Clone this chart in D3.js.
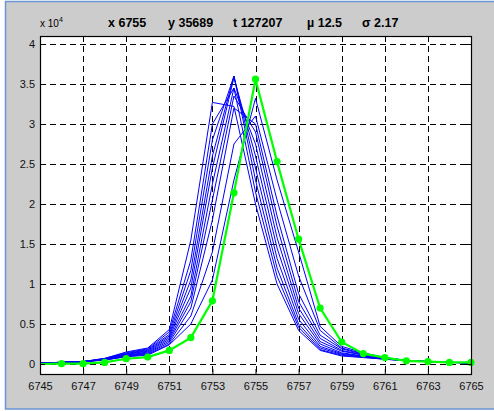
<!DOCTYPE html>
<html>
<head>
<meta charset="utf-8">
<script src="https://cdn.jsdelivr.net/npm/d3@7"></script>
<style>
  body { margin: 0; background: #fff; }
  text { font-family: "Liberation Sans", Arial, sans-serif; }
</style>
</head>
<body>
<svg width="494" height="411"></svg>
<script>
// wavelength channels
var xs = [6744, 6745, 6746, 6747, 6748, 6749, 6750, 6751, 6752, 6753, 6754,
          6755, 6756, 6757, 6758, 6759, 6760, 6761, 6762, 6763, 6764, 6765];

// measured profile (green), units of 1e4
var measured = [0, 0, 0.004, 0.004, 0.02, 0.066, 0.087, 0.17, 0.33, 0.79, 2.14,
                3.56, 2.53, 1.56, 0.70, 0.275, 0.13, 0.08, 0.04, 0.03, 0.02, 0.02];

// neighbouring profiles (blue)
var neighbours = [
  [0.01, 0.015, 0.02, 0.03, 0.07, 0.15, 0.20, 0.43, 1.55, 3.27, 3.22, 2.00, 1.00, 0.42, 0.17, 0.10, 0.08, 0.06, 0.04, 0.03, 0.02, 0.015],
  [0.01, 0.015, 0.02, 0.03, 0.07, 0.14, 0.19, 0.40, 1.30, 3.00, 3.45, 2.15, 1.10, 0.46, 0.18, 0.11, 0.085, 0.06, 0.04, 0.03, 0.02, 0.015],
  [0.01, 0.015, 0.02, 0.03, 0.065, 0.13, 0.18, 0.37, 1.17, 2.80, 3.60, 2.30, 1.20, 0.50, 0.20, 0.12, 0.09, 0.065, 0.04, 0.03, 0.02, 0.015],
  [0.01, 0.015, 0.02, 0.03, 0.06, 0.125, 0.17, 0.35, 1.05, 2.60, 3.60, 2.45, 1.32, 0.56, 0.22, 0.13, 0.095, 0.065, 0.04, 0.03, 0.02, 0.015],
  [0.01, 0.015, 0.02, 0.03, 0.06, 0.12, 0.16, 0.33, 0.95, 2.45, 3.58, 2.60, 1.45, 0.63, 0.25, 0.14, 0.10, 0.07, 0.04, 0.03, 0.02, 0.015],
  [0.01, 0.015, 0.02, 0.03, 0.055, 0.11, 0.15, 0.31, 0.85, 2.25, 3.45, 2.75, 1.58, 0.70, 0.28, 0.16, 0.11, 0.07, 0.045, 0.03, 0.02, 0.015],
  [0.01, 0.015, 0.02, 0.03, 0.055, 0.105, 0.14, 0.29, 0.78, 2.05, 3.35, 2.90, 1.72, 0.78, 0.32, 0.17, 0.115, 0.075, 0.045, 0.03, 0.02, 0.015],
  [0.01, 0.015, 0.02, 0.03, 0.05, 0.10, 0.13, 0.27, 0.70, 1.80, 3.20, 3.00, 1.85, 0.88, 0.36, 0.19, 0.12, 0.075, 0.045, 0.03, 0.02, 0.015],
  [0.01, 0.015, 0.02, 0.03, 0.05, 0.095, 0.12, 0.25, 0.60, 1.40, 2.75, 3.10, 2.05, 1.10, 0.42, 0.20, 0.13, 0.08, 0.045, 0.03, 0.02, 0.015],
  [0.01, 0.015, 0.02, 0.03, 0.05, 0.09, 0.11, 0.24, 0.50, 1.05, 2.30, 3.32, 2.30, 1.40, 0.47, 0.22, 0.14, 0.08, 0.045, 0.03, 0.02, 0.015]
];

var xTicks = [6745, 6747, 6749, 6751, 6753, 6755, 6757, 6759, 6761, 6763, 6765];
var yTicks = [0, 0.5, 1, 1.5, 2, 2.5, 3, 3.5, 4];

var titleParts = ["x 6755", "y 35689", "t 127207", "\u00b5 12.5", "\u03c3 2.17"];
var titleX = [108, 168, 233, 307, 362];

var svg = d3.select("svg");

// figure panel
svg.append("rect")
    .attr("x", 5.5).attr("y", 1.5)
    .attr("width", 495).attr("height", 407.5)
    .attr("fill", "#cccccc")
    .attr("stroke", "#6a94d4")
    .attr("stroke-width", 1.5);

var pL = 40, pR = 471, pT = 36, pB = 374;

var x = d3.scaleLinear().domain([6745, 6765]).range([pL, pR]);
var y = d3.scaleLinear().domain([-0.125, 4.1]).range([pB, pT]);

svg.append("rect")
    .attr("x", pL).attr("y", pT)
    .attr("width", pR - pL).attr("height", pB - pT)
    .attr("fill", "#fff");

svg.append("clipPath").attr("id", "clip")
  .append("rect")
    .attr("x", pL).attr("y", pT)
    .attr("width", pR - pL).attr("height", pB - pT);

// grid
svg.append("g").selectAll("line")
    .data(xTicks)
    .enter().append("line")
    .attr("x1", function (d) { return Math.round(x(d)) + 0.5; })
    .attr("x2", function (d) { return Math.round(x(d)) + 0.5; })
    .attr("y1", pT).attr("y2", pB)
    .attr("stroke", "#000")
    .attr("stroke-dasharray", "6,4");

svg.append("g").selectAll("line")
    .data(yTicks)
    .enter().append("line")
    .attr("y1", function (d) { return Math.round(y(d)) + 0.5; })
    .attr("y2", function (d) { return Math.round(y(d)) + 0.5; })
    .attr("x1", pL).attr("x2", pR)
    .attr("stroke", "#000")
    .attr("stroke-dasharray", "6,4");

var line = d3.line()
    .x(function (d, i) { return x(xs[i]); })
    .y(function (d) { return y(d); });

var plot = svg.append("g").attr("clip-path", "url(#clip)");

plot.selectAll("path.nb")
    .data(neighbours)
    .enter().append("path")
    .attr("class", "nb")
    .attr("d", line)
    .attr("fill", "none")
    .attr("stroke", "#0000ff")
    .attr("stroke-width", 1);

plot.append("path")
    .attr("d", line(measured))
    .attr("fill", "none")
    .attr("stroke", "#00ff00")
    .attr("stroke-width", 2.2);

// markers (not clipped), none at the left edge
var pts = xs.map(function (v, i) { return { x: v, y: measured[i] }; })
    .filter(function (p) { return p.x > 6745; });

svg.append("g").selectAll("circle")
    .data(pts)
    .enter().append("circle")
    .attr("cx", function (d) { return x(d.x); })
    .attr("cy", function (d) { return y(d.y); })
    .attr("r", 3.6)
    .attr("fill", "#00ff00");

// axes
var xAxis = d3.axisBottom(x).tickValues(xTicks).tickSizeInner(-5).tickSizeOuter(0).tickPadding(8)
    .tickFormat(d3.format("d"));
var yAxis = d3.axisLeft(y).tickValues(yTicks).tickSizeInner(-5).tickSizeOuter(0).tickPadding(5)
    .tickFormat(function (d) { return d; });

var gx = svg.append("g").attr("transform", "translate(0," + pB + ")").call(xAxis);
var gy = svg.append("g").attr("transform", "translate(" + pL + ",0)").call(yAxis);
[gx, gy].forEach(function (g) {
    g.select(".domain").remove();
    g.selectAll("text")
        .attr("font-family", "Liberation Sans, Arial, sans-serif")
        .attr("font-size", 11)
        .attr("fill", "#111");
    g.selectAll("line").attr("stroke", "#000");
});

// ticks on top / right
svg.append("g").selectAll("line")
    .data(xTicks)
    .enter().append("line")
    .attr("x1", function (d) { return Math.round(x(d)) + 0.5; })
    .attr("x2", function (d) { return Math.round(x(d)) + 0.5; })
    .attr("y1", pT).attr("y2", pT + 5)
    .attr("stroke", "#000");
svg.append("g").selectAll("line")
    .data(yTicks)
    .enter().append("line")
    .attr("y1", function (d) { return Math.round(y(d)) + 0.5; })
    .attr("y2", function (d) { return Math.round(y(d)) + 0.5; })
    .attr("x1", pR - 5).attr("x2", pR)
    .attr("stroke", "#000");

// box
svg.append("rect")
    .attr("x", pL + 0.5).attr("y", pT + 0.5)
    .attr("width", pR - pL).attr("height", pB - pT)
    .attr("fill", "none")
    .attr("stroke", "#000")
    .attr("stroke-width", 1.2);

// exponent label
var ex = svg.append("text")
    .attr("x", 40).attr("y", 27)
    .attr("font-size", 10)
    .attr("fill", "#000");
ex.append("tspan").text("x 10");
ex.append("tspan").attr("dy", -5).attr("font-size", 7).text("4");

// title
svg.append("g").selectAll("text")
    .data(titleParts)
    .enter().append("text")
    .attr("x", function (d, i) { return titleX[i]; })
    .attr("y", 27)
    .attr("font-size", 12.5)
    .attr("font-weight", "bold")
    .attr("fill", "#000")
    .text(function (d) { return d; });
</script>
</body>
</html>
